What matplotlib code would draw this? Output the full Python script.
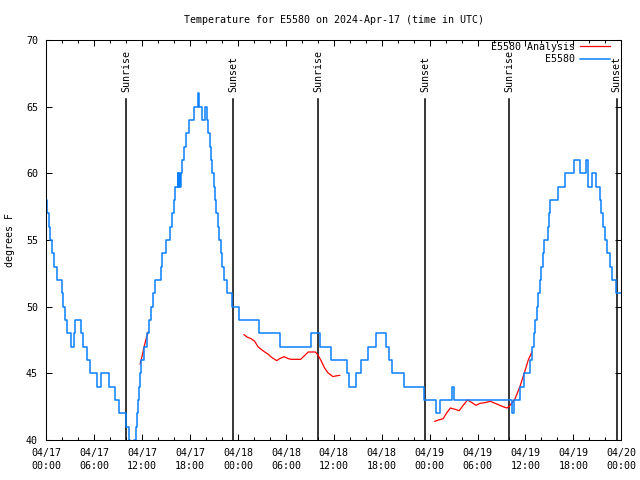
import numpy as np
import matplotlib
matplotlib.use("Agg")
import matplotlib.pyplot as plt
from matplotlib.ticker import MultipleLocator

# hours since 2024-04-17 00:00 UTC
tick_hours = [0, 6, 12, 18, 24, 30, 36, 42, 48, 54, 60, 66, 72]
tick_labels = ["04/17\n00:00", "04/17\n06:00", "04/17\n12:00", "04/17\n18:00",
               "04/18\n00:00", "04/18\n06:00", "04/18\n12:00", "04/18\n18:00",
               "04/19\n00:00", "04/19\n06:00", "04/19\n12:00", "04/19\n18:00",
               "04/20\n00:00"]

# station obs (integer deg F), hour at which the value starts
obs_hours = [0.0, 0.1, 0.3, 0.5, 0.75, 1.0, 1.3, 1.95, 2.15, 2.4, 2.65, 3.1, 3.5, 3.6,
             4.3, 4.6, 5.05, 5.5, 6.4, 6.85, 7.85, 8.65, 9.1, 9.95, 10.3, 10.5, 11.0,
             11.2, 11.35, 11.5, 11.6, 11.7, 11.85, 12.25, 12.6, 12.85, 13.1, 13.35,
             13.6, 14.3, 14.55, 15.05, 15.45, 15.75, 15.95, 16.15, 16.45, 16.55,
             16.65, 16.75, 16.85, 17.0, 17.25, 17.5, 17.85, 18.45, 18.95, 19.15,
             19.45, 19.85, 20.15, 20.3, 20.45, 20.6, 20.8, 20.95, 21.1, 21.3, 21.45,
             21.65, 21.85, 22.05, 22.3, 22.65, 23.2, 24.15, 26.65, 29.3, 33.1, 34.3,
             35.65, 37.7, 37.9, 38.75, 39.35, 40.3, 41.3, 42.5, 42.85, 43.35, 44.8,
             47.3, 48.85, 49.3, 50.85, 51.05, 58.35, 58.6, 59.35, 59.85, 60.6, 60.8,
             61.05, 61.25, 61.45, 61.6, 61.8, 62.0, 62.15, 62.35, 62.8, 62.95, 63.1,
             64.1, 64.9, 66.1, 66.85, 67.6, 67.85, 68.35, 68.85, 69.35, 69.5, 69.7,
             69.9, 70.15, 70.6, 70.85, 71.3, 71.9]
obs_temps = [58, 57, 56, 55, 54, 53, 52, 51, 50, 49, 48, 47, 48, 49,
             48, 47, 46, 45, 44, 45, 44, 43, 42, 41, 40, 39, 40,
             41, 42, 43, 44, 45, 46, 47, 48, 49, 50, 51,
             52, 53, 54, 55, 56, 57, 58, 59, 60, 59,
             60, 59, 60, 61, 62, 63, 64, 65, 66, 65,
             64, 65, 64, 63, 62, 61, 60, 59, 58, 57, 56,
             55, 54, 53, 52, 51, 50, 49, 48, 47, 48, 47,
             46, 45, 44, 45, 46, 47, 48, 47, 46, 45, 44,
             43, 42, 43, 44, 43, 42, 43, 44, 45, 46, 47,
             48, 49, 50, 51, 52, 53, 54, 55, 56, 57, 58,
             59, 60, 61, 60, 61, 59, 60, 59, 58, 57, 56,
             55, 54, 53, 52, 51, 51]

# analysis, nan = gap
ana_hours = [11.75, 12.0, 12.25, 12.5, 12.75, np.nan,
             24.75, 25.2, 25.65, 26.1, 26.5, 26.9, 27.35, 27.75, 28.2, 28.6, 28.85,
             29.2, 29.8, 30.3, 30.7, 31.85, 32.8, 33.7, 34.0, 34.45, 34.85, 35.25,
             35.9, 36.2, 36.75, np.nan,
             48.65, 49.1, 49.7, 50.1, 50.6, 51.2, 51.7, 52.2, 52.75, 53.3, 53.8,
             54.3, 54.9, 55.6, 56.2, 56.8, 57.4, 57.7, 58.0, 58.7, 59.3, 59.95,
             60.35, 60.8]
ana_temps = [45.7, 46.3, 47.0, 47.6, 48.1, np.nan,
             47.9, 47.7, 47.6, 47.4, 47.0, 46.8, 46.6, 46.45, 46.2, 46.05, 45.95,
             46.1, 46.25, 46.1, 46.05, 46.05, 46.6, 46.6, 46.4, 45.9, 45.4, 45.05,
             44.75, 44.8, 44.85, np.nan,
             41.4, 41.5, 41.6, 42.0, 42.4, 42.3, 42.2, 42.6, 43.0, 42.8, 42.6,
             42.75, 42.8, 42.9, 42.75, 42.6, 42.45, 42.4, 42.55, 43.1, 44.0, 45.2,
             46.0, 46.6]

sun_hours = [9.98, 23.42, 34.05, 47.45, 57.98, 71.42]
sun_names = ["Sunrise", "Sunset", "Sunrise", "Sunset", "Sunrise", "Sunset"]

plt.rcParams["font.family"] = ["DejaVu Sans Mono"]
plt.rcParams["font.size"] = 7.2

fig = plt.figure(figsize=(6.4, 4.8), dpi=100)
ax = fig.add_axes([46.3 / 640, 40 / 480, 575 / 640, 400 / 480])

for h, name in zip(sun_hours, sun_names):
    ax.axvline(h, ymin=0, ymax=0.8525, color="black", lw=1.1)
    ax.text(h, 0.87, name, transform=ax.get_xaxis_transform(), rotation=90,
            ha="center", va="bottom", fontsize=7.2)

ax.plot(ana_hours, ana_temps, color="#ff0000", lw=0.9, label="E5580 Analysis")
ax.plot(obs_hours, obs_temps, color="#0a80ff", lw=1.1, drawstyle="steps-post",
        label="E5580")

ax.set_xlim(0, 72)
ax.set_ylim(40, 70)
ax.set_xticks(tick_hours)
ax.set_xticklabels(tick_labels)
ax.xaxis.set_minor_locator(MultipleLocator(2))
ax.set_yticks(range(40, 71, 5))
ax.tick_params(which="both", direction="in", top=True, right=True, width=0.75)
ax.tick_params(which="major", length=4, pad=6)
ax.tick_params(which="minor", length=2.4)
for t in ax.get_xticklabels():
    t.set_linespacing(1.35)
for s in ax.spines.values():
    s.set_linewidth(0.75)

ax.legend(loc="upper right", bbox_to_anchor=(1 - 11 / 575, 1 - 2 / 400),
          frameon=False, markerfirst=False, handlelength=3.0, handletextpad=0.5,
          borderpad=0, borderaxespad=0, labelspacing=0.25, fontsize=7.2)

fig.text(333.8 / 640, 1 - 20 / 480, "Temperature for E5580 on 2024-Apr-17 (time in UTC)",
         ha="center", va="center", fontsize=7.2)
fig.text(10 / 640, 240 / 480, "degrees F", rotation=90, ha="center", va="center",
         fontsize=7.2)

fig.savefig("out.png", dpi=100)
